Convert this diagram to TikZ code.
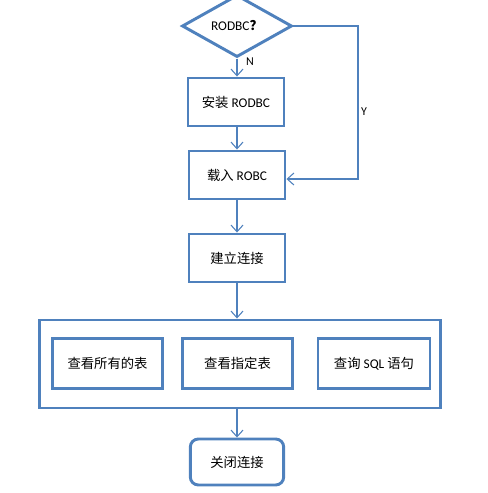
\documentclass[tikz,border=0pt]{standalone}
\usepackage{fontspec}
\setmainfont{Carlito}
\newfontfamily\cjk{Noto Sans CJK SC}
\usetikzlibrary{shapes.geometric,arrows.meta}
\definecolor{flowblue}{RGB}{79,129,189}

\begin{document}
\begin{tikzpicture}[x=0.75pt,y=-0.75pt]
          \tikzstyle{every node}+=[inner sep=0pt,font=\fontsize{10}{12}\selectfont]
          \tikzstyle{flowbox}=[draw=flowblue,line width=2.2pt,minimum width=72pt,minimum height=36pt]
          \tikzstyle{flowline}=[draw=flowblue,line width=0.8pt,-{Straight Barb[length=5pt,width=9pt]}]
          \useasboundingbox (0,0) rectangle (488,493);
          % decision and steps
          \node [draw=flowblue,line width=2.2pt,diamond,minimum width=82.5pt,minimum height=36pt] (dec) at (237,26) {RODBC{\cjk\bfseries ？}};
          \node [flowbox] (inst) at (236,102) {{\cjk 安装} RODBC};
          \node [flowbox] (load) at (237,175) {{\cjk 载入} ROBC};
          \node [flowbox] (conn) at (237,258) {\cjk 建立连接};
          % query group
          \node [flowbox,minimum width=300.75pt,minimum height=66pt] (group) at (240,364) {};
          \node [flowbox,minimum width=83pt,minimum height=38pt] (alltab) at (107.5,363.5) {\cjk 查看所有的表};
          \node [flowbox,minimum width=83pt,minimum height=38pt] (onetab) at (237.5,363.5) {\cjk 查看指定表};
          \node [flowbox,minimum width=84pt,minimum height=38pt] (sqlq) at (374,363.5) {{\cjk 查询} SQL {\cjk 语句}};
          \node [flowbox,rounded corners=6pt,minimum width=70pt,minimum height=34.5pt] (close) at (237,462) {\cjk 关闭连接};
          % connectors
          \coordinate (yturn) at (358,26);
          \draw [flowline] (dec.south) -- (dec.south |- inst.north);
          \draw (250,62) node {\fontsize{9}{11}\selectfont N};
          \draw [flowline] (dec.east) -- (yturn) |- ([yshift=-3pt]load.east);
          \draw (364,112) node {\fontsize{9}{11}\selectfont Y};
          \draw [flowline] (inst.south -| load.north) -- (load.north);
          \draw [flowline] (load.south) -- (conn.north);
          \draw [flowline] (conn.south) -- (conn.south |- group.north);
          \draw [flowline] (group.south -| close.north) -- (close.north);
\end{tikzpicture}
\end{document}
